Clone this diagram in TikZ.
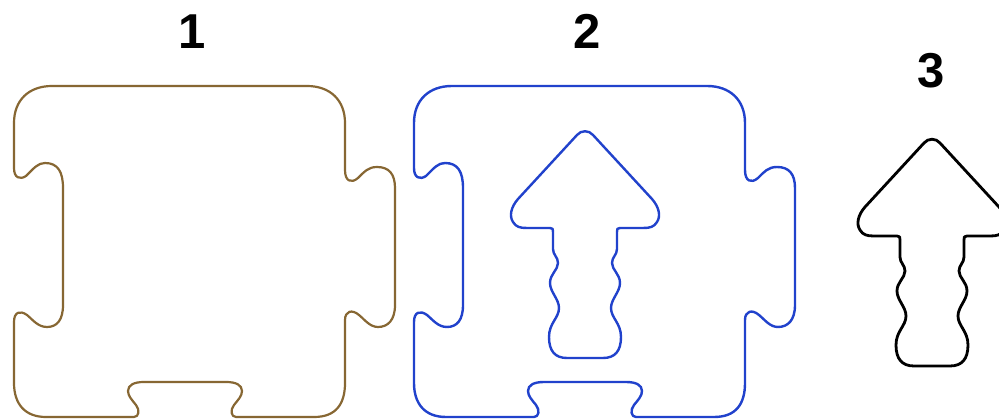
\documentclass[tikz,border=0pt]{standalone}
\usepackage{fontspec}
\setmainfont{Liberation Sans}
\definecolor{pbrown}{HTML}{876733}
\definecolor{pblue}{HTML}{2142CC}
\tikzset{
  puzzle/.pic={
    \draw[pic actions, line join=round]
      (52,86) -- (307,86)
      .. controls (330,86) and (345,100) .. (345,123)
      -- (345,170)
      .. controls (345,181) and (351,184) .. (358,178)
      .. controls (364,172) and (368,167) .. (377,167)
      .. controls (389,167) and (395,174) .. (395,188)
      -- (395,305)
      .. controls (395,320) and (388,327) .. (378,327)
      .. controls (370,327) and (365,320) .. (359,315)
      .. controls (352,309) and (345,311) .. (345,320)
      -- (345,383)
      .. controls (345,404) and (336,417) .. (314,417)
      -- (236,417)
      .. controls (231,417) and (230,410) .. (234,405)
      .. controls (238,400) and (242,396) .. (242,391)
      .. controls (242,385) and (236,382) .. (226,382)
      -- (144,382)
      .. controls (134,382) and (128,385) .. (128,391)
      .. controls (128,396) and (132,400) .. (136,405)
      .. controls (140,410) and (139,417) .. (134,417)
      -- (46,417)
      .. controls (25,417) and (14,404) .. (14,383)
      -- (14,322)
      .. controls (14,312) and (20,310) .. (27,315)
      .. controls (33,320) and (38,327) .. (47,327)
      .. controls (57,327) and (63,320) .. (63,305)
      -- (63,188)
      .. controls (63,172) and (58,163) .. (45,163)
      .. controls (38,163) and (34,168) .. (26,176)
      .. controls (20,180) and (14,178) .. (14,168)
      -- (14,123)
      .. controls (14,100) and (29,86) .. (52,86) -- cycle;
  },
  arrowshape/.pic={
    \draw[pic actions, line join=round]
      (-8,4) .. controls (-4,-1) and (4,-1) .. (8,4)
      -- (67,68)
      .. controls (74,76) and (76,85) .. (72,91)
      .. controls (69,96) and (65,97) .. (58,97)
      -- (35,97)
      .. controls (32,97) and (32,98) .. (32,101)
      -- (32,118)
      .. controls (32,124) and (27,126) .. (27,132)
      .. controls (27,139) and (35,143) .. (35,152)
      .. controls (35,161) and (26,168) .. (26,177)
      .. controls (26,187) and (36,192) .. (36,206)
      .. controls (36,220) and (30,227) .. (18,227)
      -- (-18,227)
      .. controls (-30,227) and (-36,220) .. (-36,206)
      .. controls (-36,192) and (-26,187) .. (-26,177)
      .. controls (-26,168) and (-35,161) .. (-35,152)
      .. controls (-35,143) and (-27,139) .. (-27,132)
      .. controls (-27,126) and (-32,124) .. (-32,118)
      -- (-32,101)
      .. controls (-32,98) and (-32,97) .. (-35,97)
      -- (-58,97)
      .. controls (-65,97) and (-69,96) .. (-72,91)
      .. controls (-76,85) and (-74,76) .. (-67,68)
      -- cycle;
  },
  label/.style={font=\fontsize{49}{49}\selectfont\bfseries, inner sep=0pt, anchor=base}
}
\begin{document}
\begin{tikzpicture}[x=1pt, y=-1pt]
  \clip (0,0) rectangle (999,419);
  \fill[white] (0,0) rectangle (999,419);
  \pic[draw=pbrown, line width=2.2pt] at (0,0) {puzzle};
  \pic[draw=pblue, line width=2.4pt] at (400,0) {puzzle};
  \pic[draw=pblue, line width=2.4pt] at (585,131) {arrowshape};
  \pic[draw=black, line width=2.8pt] at (932,139) {arrowshape};
  \node[label] (l1) at (192,48.5) {1};
  \node[label] (l2) at (587,48.5) {2};
  \node[label] (l3) at (931,88) {3};
\end{tikzpicture}
\end{document}
